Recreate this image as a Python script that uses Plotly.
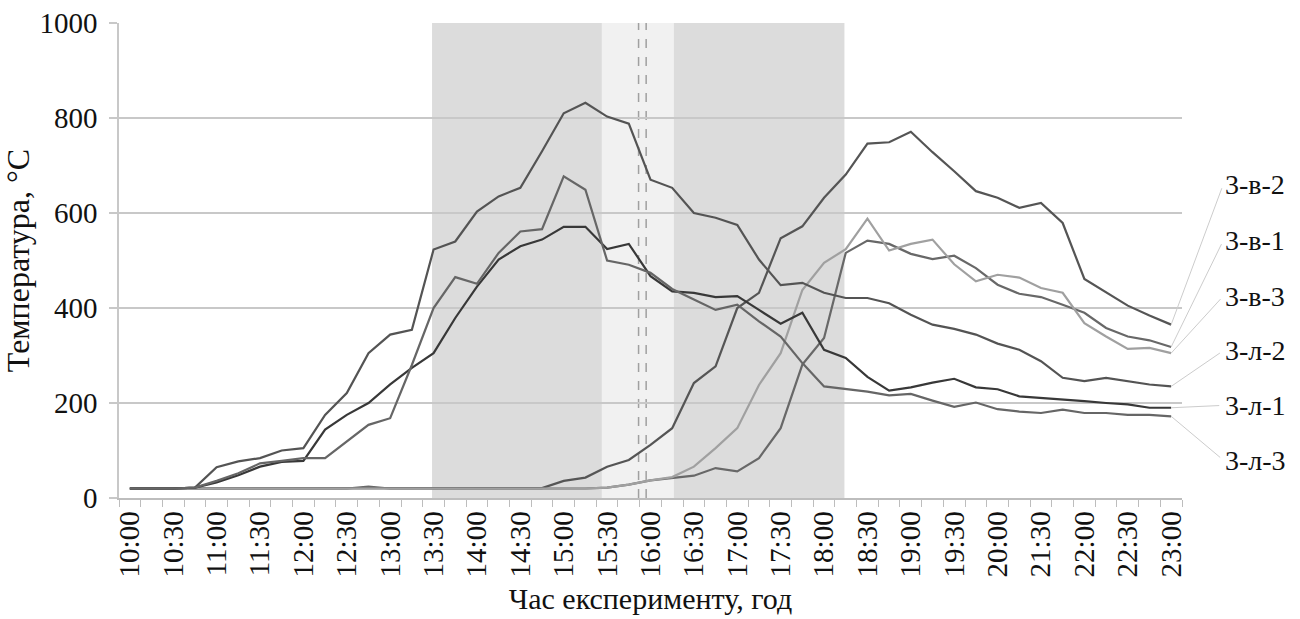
import plotly.graph_objects as go

# ---- categories (time of experiment) ----
times = ([f"{h}:{m:02d}" for h in range(10, 20) for m in (0, 15, 30, 45)] + ["20:00", "21:00", "21:30", "21:45",
          "22:00", "22:15", "22:30", "22:45", "23:00"])

# ---- series values, °C ----
v_l1 = [20, 20, 20, 22, 33, 48, 66, 76, 78, 144, 175, 200, 239, 274, 305, 379, 445, 502, 530, 544,
        571, 571, 524, 535, 467, 435, 432, 423, 425, 396, 367, 390, 312, 295, 255, 226, 233, 243, 251, 233,
        229, 214, 211, 207, 204, 200, 197, 190, 190]
v_l2 = [20, 20, 20, 22, 65, 77, 84, 100, 105, 175, 221, 305, 344, 354, 523, 540, 603, 635, 653, 730,
        810, 832, 803, 788, 670, 653, 600, 590, 575, 502, 448, 453, 432, 421, 421, 410, 386, 365, 356, 344,
        325, 312, 288, 253, 246, 253, 246, 239, 235]
v_l3 = [20, 20, 20, 22, 36, 52, 73, 78, 84, 84, 119, 154, 168, 280, 400, 465, 451, 516, 561, 566,
        677, 649, 500, 491, 474, 440, 418, 396, 407, 372, 340, 284, 235, 229, 224, 216, 219, 205, 192, 201,
        187, 182, 179, 186, 179, 179, 175, 175, 172]
v_v1 = [20, 20, 20, 20, 20, 20, 20, 20, 20, 20, 20, 24, 20, 20, 20, 20, 20, 20, 20, 20,
        20, 20, 22, 28, 37, 42, 47, 63, 56, 84, 147, 281, 337, 516, 542, 535, 514, 503, 510, 484,
        449, 430, 423, 407, 390, 358, 340, 332, 318]
v_v2 = [20, 20, 20, 20, 20, 20, 20, 20, 20, 20, 20, 20, 20, 20, 20, 20, 20, 20, 20, 21,
        36, 43, 66, 80, 112, 147, 242, 277, 400, 432, 547, 572, 632, 681, 746, 749, 771, 728, 688, 646,
        632, 611, 621, 579, 461, 433, 405, 384, 365]
v_v3 = [20, 20, 20, 20, 20, 20, 20, 20, 20, 20, 20, 20, 20, 20, 20, 20, 20, 20, 20, 20,
        20, 20, 22, 28, 37, 44, 66, 105, 147, 238, 305, 438, 495, 524, 588, 521, 535, 544, 492, 456,
        470, 464, 442, 432, 368, 340, 314, 316, 305]

names = ["3-в-2", "3-в-1", "3-в-3", "3-л-2", "3-л-1", "3-л-3"]
series = [v_v2, v_v1, v_v3, v_l2, v_l1, v_l3]
colors = ["#555555", "#686868", "#a0a0a0", "#545454", "#383838", "#666666"]
# label positions (in axis units) for the right-hand captions
label_pos_y = [660, 542, 425, 310, 195, 80]
label_pos_x = 50.4

# experiment phases (category-index positions)
dark_zones = [(13.93, 21.76), (25.06, 32.94)]
light_zones = [(21.76, 25.06)]
dashed_at = [23.45, 23.8]

idx = list(range(len(times)))
FONT = "Liberation Serif, Times New Roman, serif"
TXT = "#111111"

fig = go.Figure()
for name, vals, col in zip(names, series, colors):
    fig.add_trace(go.Scatter(x=idx, y=vals, mode="lines", name=name,
                             line=dict(color=col, width=2.2), showlegend=False))

shapes = []
for a, b in dark_zones:
    shapes.append(dict(type="rect", xref="x", yref="paper", x0=a, x1=b, y0=0, y1=1,
                       fillcolor="#dcdcdc", line=dict(width=0), layer="below"))
for a, b in light_zones:
    shapes.append(dict(type="rect", xref="x", yref="paper", x0=a, x1=b, y0=0, y1=1,
                       fillcolor="#f1f1f1", line=dict(width=0), layer="below"))
for d in dashed_at:
    shapes.append(dict(type="line", xref="x", yref="paper", x0=d, x1=d, y0=0, y1=1,
                       line=dict(color="#a0a0a0", width=1.5, dash="dash"), layer="between"))

annotations = []
for name, vals, ly in zip(names, series, label_pos_y):
    annotations.append(dict(x=idx[-1], y=vals[-1], xref="x", yref="y",
                            ax=label_pos_x, ay=ly, axref="x", ayref="y",
                            text=name, showarrow=True, arrowhead=0, arrowwidth=1,
                            arrowcolor="#cccccc", startstandoff=4,
                            xanchor="left", yanchor="middle",
                            font=dict(family=FONT, size=28, color=TXT)))

fig.update_layout(
    width=1300, height=619,
    margin=dict(l=119, r=118, t=23, b=121, autoexpand=False),
    paper_bgcolor="white", plot_bgcolor="white",
    shapes=shapes, annotations=annotations,
    font=dict(family=FONT, color=TXT),
    xaxis=dict(
        automargin=False,
        range=[-0.5, len(times) - 0.5],
        tickmode="array", tickvals=idx[::2], ticktext=times[::2],
        tickangle=-90, tickfont=dict(family=FONT, size=29, color=TXT),
        ticks="", showgrid=False, zeroline=False,
        showline=True, linecolor="#bdbdbd", linewidth=1.5,
        minor=dict(ticks="outside", tick0=-0.5, dtick=1, ticklen=7,
                   tickcolor="#bdbdbd", tickwidth=1, showgrid=False),
        title=dict(text="Час експерименту, год", font=dict(family=FONT, size=30, color=TXT),
                   standoff=12),
    ),
    yaxis=dict(
        automargin=False,
        range=[0, 1000], dtick=200, tick0=0,
        tickfont=dict(family=FONT, size=29, color=TXT),
        ticks="outside", ticklen=8, tickcolor="#c8c8c8", tickwidth=1.5,
        ticklabelstandoff=6,
        showgrid=True, gridcolor="#c8c8c8", gridwidth=1.5,
        zeroline=False, showline=True, linecolor="#c8c8c8", linewidth=1.5,
        title=dict(text="Температура, °C", font=dict(family=FONT, size=32, color=TXT),
                   standoff=2),
    ),
)

fig.write_html("out.html", config={"displayModeBar": False},
               post_script="document.body.style.margin='0';")
